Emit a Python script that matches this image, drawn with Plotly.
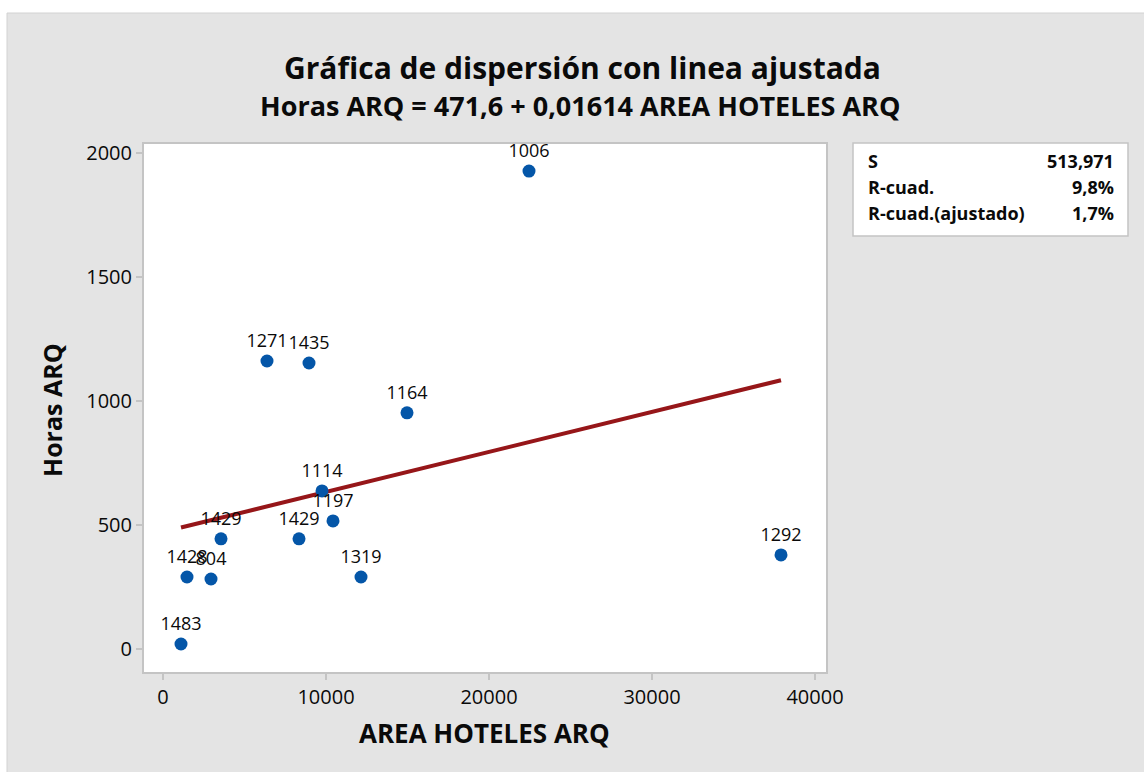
import plotly.graph_objects as go

# Observations: hotel area (m2) vs architecture hours, labelled by project id
area = [1104, 1472, 2945, 3558, 6380, 8957, 8344, 9755, 10429, 12147, 14969, 22454, 37914]
horas = [20, 290, 282, 444, 1161, 1153, 444, 637, 516, 290, 952, 1927, 379]
etiquetas = ["1483", "1428", "804", "1429", "1271", "1435", "1429", "1114", "1197", "1319", "1164", "1006", "1292"]

# Fitted regression line and summary statistics
intercepto = 471.6
pendiente = 0.01614
stat_nombres = ["S", "R-cuad.", "R-cuad.(ajustado)"]
stat_valores = ["513,971", "9,8%", "1,7%"]

titulo = "Gráfica de dispersión con linea ajustada"
subtitulo = "Horas ARQ = 471,6 + 0,01614 AREA HOTELES ARQ"
x_titulo = "AREA HOTELES ARQ"
y_titulo = "Horas ARQ"

W, H = 1144, 772
L, R, T, B = 143, 317, 143, 99
PW, PH = W - L - R, H - T - B


def px(x):
    return (x - L) / PW


def py(y):
    return (H - B - y) / PH


FONT = "Open Sans"
GRIS = "#e4e4e4"
BORDE = "#c4c4c4"
TINTA = "#0a0a0a"

fig = go.Figure()

x_min, x_max = min(area), max(area)
n = 60
xs = [x_min + (x_max - x_min) * i / n for i in range(n + 1)]
ys = [intercepto + pendiente * x for x in xs]
fig.add_trace(go.Scatter(
    x=xs, y=ys, mode="lines",
    line=dict(color="#961619", width=4),
    hoverinfo="skip", showlegend=False,
))

fig.add_trace(go.Scatter(
    x=area, y=horas, mode="markers+text",
    text=etiquetas, textposition="top center",
    textfont=dict(family=FONT, size=18, color=TINTA),
    marker=dict(color="#0456a8", size=13),
    showlegend=False,
))

shapes = [
    # grey panel behind everything
    dict(type="rect", xref="paper", yref="paper", layer="below",
         x0=px(7), x1=px(W + 2), y0=py(H + 2), y1=py(13),
         fillcolor=GRIS, line=dict(color="#d2d2d2", width=1)),
    # plot frame
    dict(type="rect", xref="paper", yref="paper", layer="below",
         x0=0, x1=1, y0=0, y1=1,
         fillcolor="white", line=dict(color=BORDE, width=2)),
    # statistics box
    dict(type="rect", xref="paper", yref="paper",
         x0=px(853), x1=px(1128), y0=py(236), y1=py(143),
         fillcolor="white", line=dict(color=BORDE, width=1.5)),
]

annotations = [
    dict(text=f"<b>{titulo}</b>", x=px(582), y=py(68), xref="paper", yref="paper",
         showarrow=False, xanchor="center", yanchor="middle",
         font=dict(family=FONT, size=30, color=TINTA)),
    dict(text=f"<b>{subtitulo}</b>", x=px(580), y=py(105), xref="paper", yref="paper",
         showarrow=False, xanchor="center", yanchor="middle",
         font=dict(family=FONT, size=27, color=TINTA)),
    dict(text=f"<b>{x_titulo}</b>", x=px(484), y=py(733), xref="paper", yref="paper",
         showarrow=False, xanchor="center", yanchor="middle",
         font=dict(family=FONT, size=26, color=TINTA)),
    dict(text=f"<b>{y_titulo}</b>", x=px(52), y=py(410), xref="paper", yref="paper",
         showarrow=False, xanchor="center", yanchor="middle", textangle=-90,
         font=dict(family=FONT, size=25, color=TINTA)),
]

row_y = [161, 187, 213]
for nombre, valor, yy in zip(stat_nombres, stat_valores, row_y):
    annotations.append(dict(text=f"<b>{nombre}</b>", x=px(866), y=py(yy),
                            xref="paper", yref="paper", showarrow=False,
                            xanchor="left", yanchor="middle",
                            font=dict(family=FONT, size=18, color=TINTA)))
    annotations.append(dict(text=f"<b>{valor}</b>", x=px(1116), y=py(yy),
                            xref="paper", yref="paper", showarrow=False,
                            xanchor="right", yanchor="middle",
                            font=dict(family=FONT, size=18, color=TINTA)))

fig.update_layout(
    width=W, height=H,
    margin=dict(l=L, r=R, t=T, b=B),
    paper_bgcolor="white",
    plot_bgcolor="rgba(0,0,0,0)",
    shapes=shapes,
    annotations=annotations,
    font=dict(family=FONT, color=TINTA),
    xaxis=dict(
        range=[-1227, 40736], tickvals=[0, 10000, 20000, 30000, 40000],
        ticktext=["0", "10000", "20000", "30000", "40000"],
        showgrid=False, zeroline=False, showline=False,
        ticks="outside", ticklen=6, tickcolor=BORDE, tickwidth=1.5,
        tickfont=dict(family=FONT, size=20, color=TINTA),
    ),
    yaxis=dict(
        range=[-97, 2040], tickvals=[0, 500, 1000, 1500, 2000],
        ticktext=["0", "500", "1000", "1500", "2000"],
        showgrid=False, zeroline=False, showline=False,
        ticks="outside", ticklen=6, tickcolor=BORDE, tickwidth=1.5,
        tickfont=dict(family=FONT, size=20, color=TINTA),
    ),
)

fig.write_html("out.html")
